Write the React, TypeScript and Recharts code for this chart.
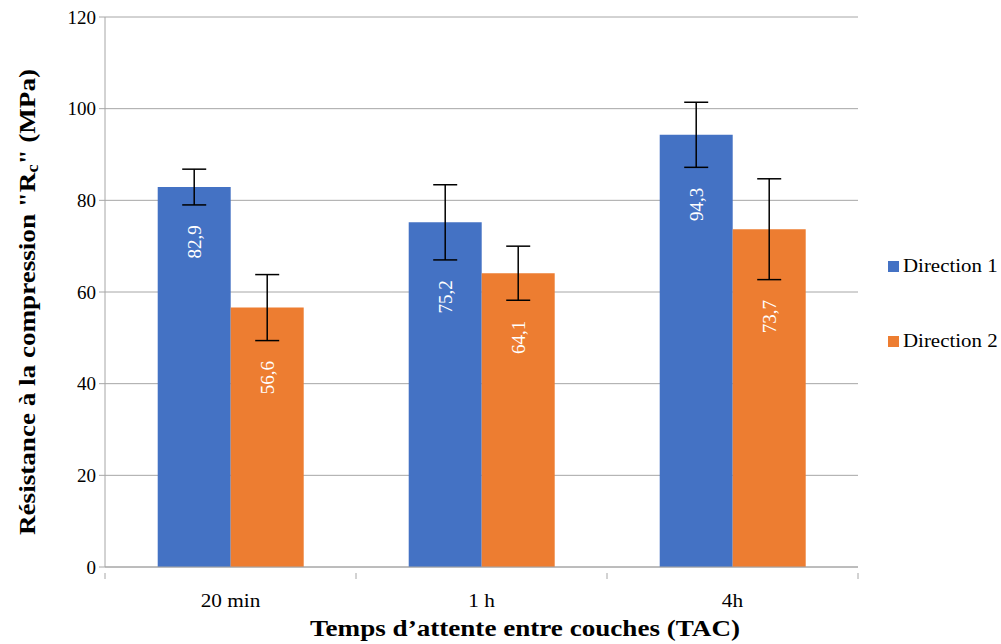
import React from "react";
import {
  Bar,
  BarChart,
  CartesianGrid,
  ErrorBar,
  LabelList,
  XAxis,
  YAxis,
} from "recharts";

const categories = ["20 min", "1 h", "4h"];
const direction1 = [82.9, 75.2, 94.3];
const direction2 = [56.6, 64.1, 73.7];
const error1 = [3.9, 8.2, 7.1];
const error2 = [7.2, 5.9, 11.0];
const yTicks = [0, 20, 40, 60, 80, 100, 120];

const series = [
  { key: "d1", errKey: "e1", name: "Direction 1", color: "#4472C4", errors: error1 },
  { key: "d2", errKey: "e2", name: "Direction 2", color: "#ED7D31", errors: error2 },
];

const data = categories.map((cat, i) => ({
  cat,
  d1: direction1[i],
  d2: direction2[i],
  e1: error1[i],
  e2: error2[i],
}));

const FONT = "'Liberation Serif', 'Times New Roman', serif";
const GRID = "#a6a6a6";

// tick label + category boundary marks
const CategoryTick = (props: any) => {
  const { x, y, payload, index, visibleTicksCount } = props;
  const half = payload.offset || 0;
  const axisY = y - 22;
  return (
    <g>
      <line x1={x - half} x2={x - half} y1={axisY} y2={axisY + 6} stroke={GRID} />
      {index === visibleTicksCount - 1 && (
        <line x1={x + half} x2={x + half} y1={axisY} y2={axisY + 6} stroke={GRID} />
      )}
      <text
        x={x}
        y={y + 12}
        textAnchor="middle"
        fontSize={19}
        fontFamily={FONT}
        fill="#000"
        transform={`translate(${x} 0) scale(1.12 1) translate(${-x} 0)`}
      >
        {payload.value}
      </text>
    </g>
  );
};

const makeValueLabel = (errors: number[]) => (props: any) => {
  const { x, y, width, height, value, index } = props;
  const v = Number(value);
  if (!v) return null;
  const perUnit = height / v;
  const errBottom = y + errors[index] * perUnit;
  const cx = x + width / 2;
  const cy = errBottom + 19 + 18;
  return (
    <text
      x={cx}
      y={cy}
      transform={`rotate(-90 ${cx} ${cy})`}
      textAnchor="middle"
      dominantBaseline="central"
      fontSize={19}
      fontFamily={FONT}
      fill="#fff"
    >
      {String(v).replace(".", ",")}
    </text>
  );
};

const YLabel = () => (
  <text
    x={0}
    y={0}
    transform="translate(27 302) rotate(-90)"
    textAnchor="middle"
    dominantBaseline="central"
    fontSize={24}
    fontWeight="bold"
    fontFamily={FONT}
    fill="#000"
    textLength={466}
    lengthAdjust="spacingAndGlyphs"
  >
    Résistance à la compression "R
    <tspan fontSize={16} dy={5}>c</tspan>
    <tspan dy={-5}>" (MPa)</tspan>
  </text>
);

export default function App() {
  return (
    <div
      style={{
        position: "absolute",
        left: 0,
        top: 0,
        width: 1001,
        height: 644,
        background: "#fff",
        fontFamily: FONT,
      }}
    >
      <BarChart
        width={1001}
        height={644}
        data={data}
        margin={{ top: 17, right: 143, bottom: 47, left: 0 }}
        barCategoryGap="21%"
        barGap={0}
      >
        <CartesianGrid vertical={false} stroke={GRID} />
        <XAxis
          dataKey="cat"
          height={30}
          axisLine={{ stroke: GRID }}
          tickLine={false}
          tickMargin={22}
          tick={<CategoryTick />}
          interval={0}
        />
        <YAxis
          width={105}
          domain={[0, 120]}
          ticks={yTicks}
          axisLine={{ stroke: GRID }}
          tickLine={{ stroke: GRID }}
          tickSize={6}
          tickMargin={3}
          tick={{ fontSize: 19, fill: "#000", fontFamily: FONT }}
        />
        {series.map((s) => (
          <Bar
            key={s.key}
            dataKey={s.key}
            name={s.name}
            fill={s.color}
            isAnimationActive={false}
          >
            <ErrorBar
              dataKey={s.errKey}
              width={12}
              stroke="#000"
              strokeWidth={1.5}
              direction="y"
            />
            <LabelList dataKey={s.key} content={makeValueLabel(s.errors)} />
          </Bar>
        ))}
        <YLabel />
        <text
          x={525}
          y={628}
          textAnchor="middle"
          dominantBaseline="central"
          fontSize={24}
          fontWeight="bold"
          fontFamily={FONT}
          fill="#000"
          textLength={430}
          lengthAdjust="spacingAndGlyphs"
        >
          Temps d’attente entre couches (TAC)
        </text>
      </BarChart>
      <div style={{ position: "absolute", left: 888, top: 253 }}>
        {series.map((s, i) => (
          <div
            key={s.key}
            style={{
              display: "flex",
              alignItems: "center",
              height: 26,
              marginTop: i === 0 ? 0 : 49,
              fontSize: 19,
              color: "#000",
              whiteSpace: "nowrap",
            }}
          >
            <span
              style={{
                display: "inline-block",
                width: 11,
                height: 11,
                background: s.color,
                marginRight: 4,
              }}
            />
            <span
              style={{
                display: "inline-block",
                transform: "scaleX(1.1)",
                transformOrigin: "left center",
              }}
            >
              {s.name}
            </span>
          </div>
        ))}
      </div>
    </div>
  );
}
